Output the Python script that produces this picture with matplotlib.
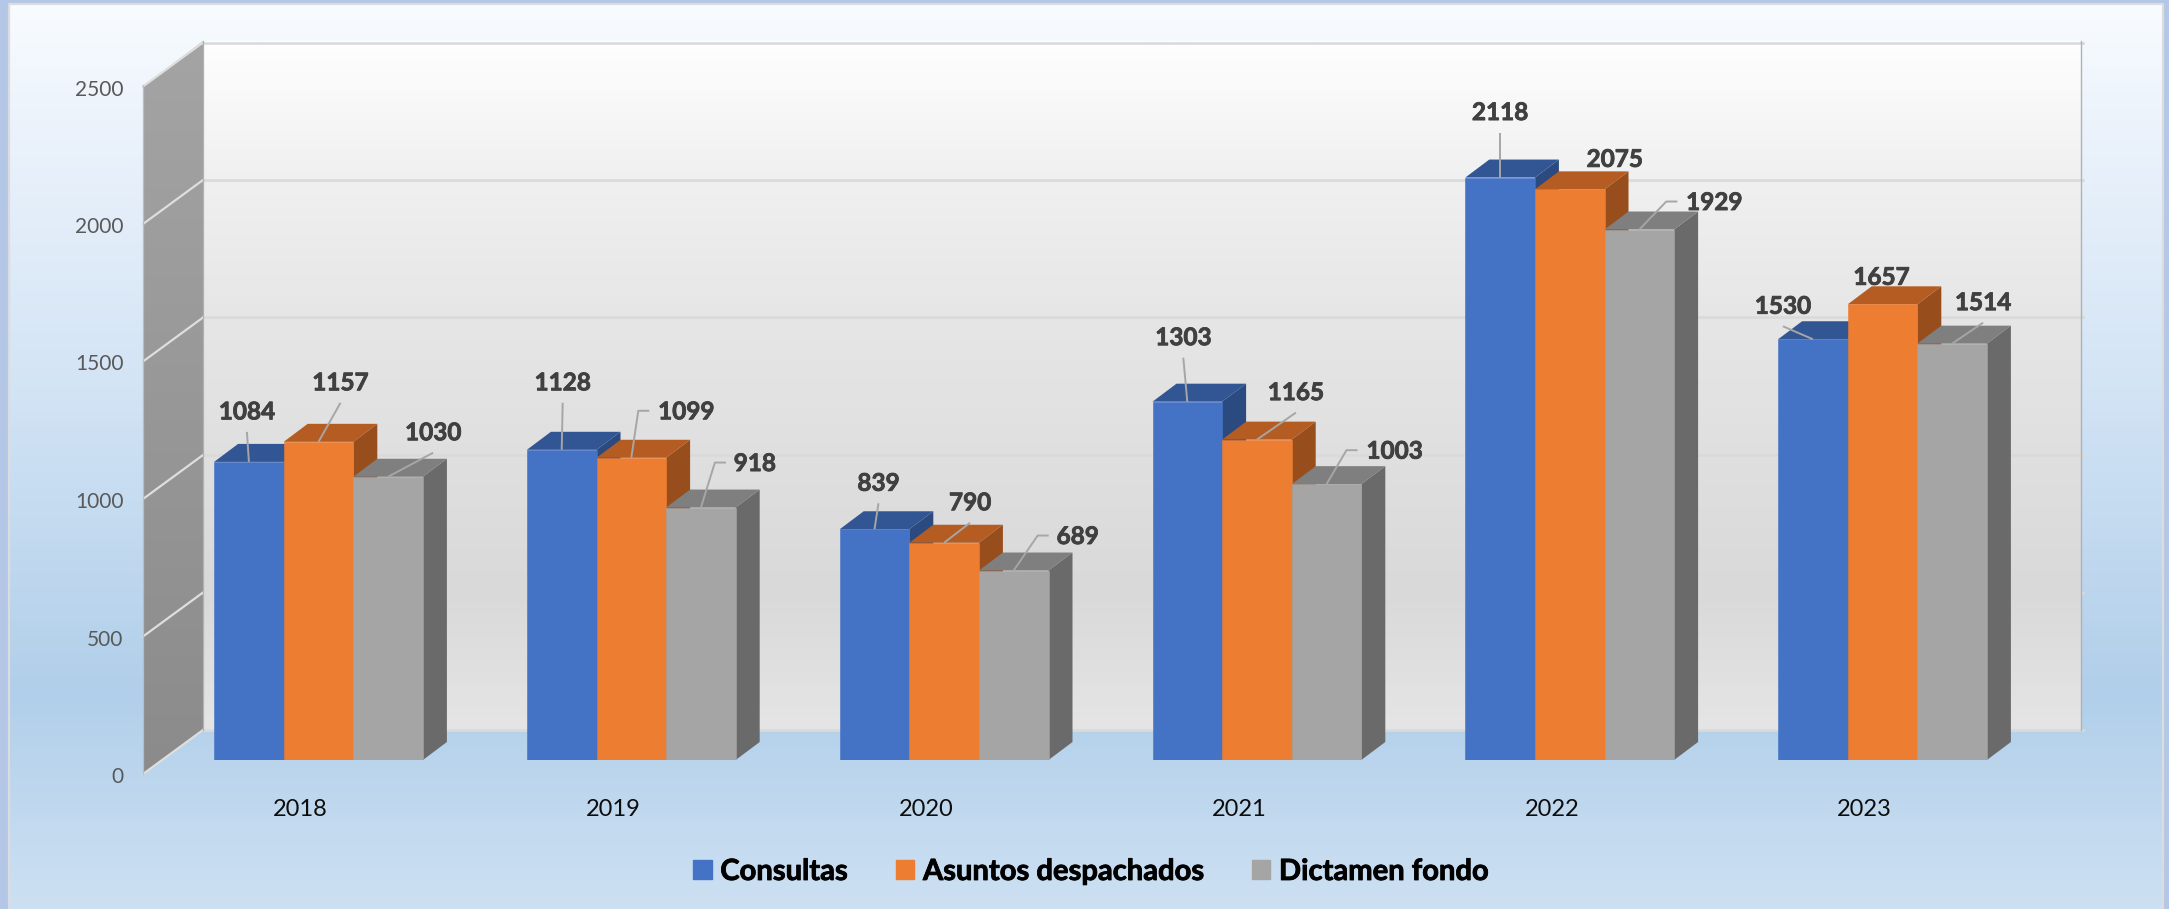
import numpy as np
import matplotlib
matplotlib.use('Agg')
import matplotlib.pyplot as plt
import matplotlib.patheffects as pe
from matplotlib.colors import LinearSegmentedColormap
from matplotlib.patches import Patch, Polygon
from matplotlib.transforms import ScaledTranslation

years = ['2018', '2019', '2020', '2021', '2022', '2023']
consultas = [1084, 1128, 839, 1303, 2118, 1530]
asuntos = [1157, 1099, 790, 1165, 2075, 1657]
dictamen = [1030, 918, 689, 1003, 1929, 1514]
series_names = ['Consultas', 'Asuntos despachados', 'Dictamen fondo']
yticks = [0, 500, 1000, 1500, 2000, 2500]

# label offset from the bar top centre, in pixels (right, up)
consultas_off = [(-2, 50), (1, 67), (4, 46), (-4, 64), (0, 65), (-30, 33)]
asuntos_off = [(22, 59), (55, 46), (26, 40), (39, 47), (45, 30), (-1, 27)]
dictamen_off = [(45, 44), (54, 44), (64, 34), (68, 33), (75, 27), (31, 41)]
# leader kind: s straight, e elbow, n none
consultas_lead = 'ssssss'
asuntos_lead = 'sessnn'
dictamen_lead = 'seeees'

front = ['#4472C4', '#ED7D31', '#A5A5A5']
top = ['#325594', '#B45C22', '#7F7F7F']
side = ['#2A4A80', '#974E1C', '#6A6A6A']

W, H = 2169, 909
plt.rcParams['font.family'] = ['Lato', 'DejaVu Sans']
fig = plt.figure(figsize=(W / 100, H / 100), dpi=100, facecolor='#B4C7E7')

# background in pixel coordinates
bg = fig.add_axes([0, 0, 1, 1], zorder=0)
bg.set_xlim(0, W)
bg.set_ylim(H, 0)
bg.axis('off')

panel = LinearSegmentedColormap.from_list('panel', [
    (0.0, '#F8FCFF'), (0.11, '#EEF4FC'), (0.42, '#D3E4F5'),
    (0.76, '#B1CFEA'), (1.0, '#CDE0F2')])
bg.imshow(np.linspace(0, 1, 256)[:, None], cmap=panel, aspect='auto', extent=(9, 2163, H, 4))
bg.plot([9, 9, 2163, 2163], [H, 4, 4, H], color='#DADCE0', lw=1.6)

wall_l, wall_r, wall_top, wall_bot = 203, 2081, 41, 730
front_x, depth_y = 143, 44
px_per_unit = 687.5 / 2500

wall = LinearSegmentedColormap.from_list('wall', [
    (0.0, '#FEFEFE'), (0.2, '#F0F0F0'), (0.4, '#E6E6E6'), (0.8, '#D9D9D9'), (1.0, '#E5E5E5')])
bg.imshow(np.linspace(0, 1, 256)[:, None], cmap=wall, aspect='auto',
          extent=(wall_l, wall_r, wall_bot, wall_top))

side_cm = LinearSegmentedColormap.from_list('side', ['#A4A4A4', '#8B8B8B'])
side_im = bg.imshow(np.linspace(0, 1, 256)[:, None], cmap=side_cm, aspect='auto',
                    extent=(front_x, wall_l, wall_bot + depth_y, wall_top))
side_poly = Polygon([(front_x, wall_top + depth_y + 2), (wall_l, wall_top), (wall_l, wall_bot),
                     (front_x, wall_bot + depth_y)], closed=True, transform=bg.transData,
                    fc='none', ec='none')
bg.add_patch(side_poly)
side_im.set_clip_path(side_poly)
bg.set_xlim(0, W)
bg.set_ylim(H, 0)

for v in yticks:
    y = wall_bot - v * px_per_unit
    bg.plot([wall_l, wall_r + 2], [y, y], color='#DADADA', lw=1.9)
    bg.plot([front_x, wall_l], [y + depth_y, y], color='#DEDEDE', lw=1.6)
bg.plot([wall_l, wall_l], [wall_top, wall_bot], color='#B0B0B0', lw=0.9)
bg.plot([front_x, front_x], [wall_top + depth_y, wall_bot + depth_y], color='#B8BEC4', lw=0.9)
bg.plot([wall_r, wall_r], [wall_top, wall_bot], color='#AEB2B6', lw=1.0)

# main axes, front plane of the bars
ax_bottom = 760
ax = fig.add_axes([front_x / W, 1 - ax_bottom / H, (wall_r - front_x) / W, 687.5 / H], zorder=1)
ax.patch.set_visible(False)
step = 312.8
ax.set_xlim((front_x - 300.5) / step, (wall_r - 300.5) / step)
ax.set_ylim(0, 2500)
for s in ax.spines.values():
    s.set_visible(False)

dx = 24 / step
dy = 18 / px_per_unit
bar_w = 69.6 / step
group_shift = 18 / step

all_vals = [consultas, asuntos, dictamen]
all_off = [consultas_off, asuntos_off, dictamen_off]
all_lead = [consultas_lead, asuntos_lead, dictamen_lead]
xs = np.arange(len(years))

z = 2
for i in xs:
    for j in range(3):
        v = all_vals[j][i]
        c = i + group_shift + (j - 1) * bar_w
        l, r = c - bar_w / 2, c + bar_w / 2
        ax.fill([r, r + dx, r + dx, r], [0, dy, v + dy, v], color=side[j], lw=0, zorder=z)
        ax.fill([l, r, r + dx, l + dx], [v, v, v + dy, v + dy], color=top[j], lw=0, zorder=z)
        ax.bar(c, v, width=bar_w, color=front[j], edgecolor=front[j], lw=0.4, zorder=z)
        z += 1

# value labels and their leader lines
stroke = [pe.withStroke(linewidth=0.6, foreground='#404040')]
for i in xs:
    for j in range(3):
        v = all_vals[j][i]
        c = i + group_shift + (j - 1) * bar_w
        ox, oy = all_off[j][i]
        kind = all_lead[j][i]
        half = 37 if v >= 1000 else 29
        if kind == 's':
            lx, ly = [ox * 1.0, 0], [oy - 20.0, 0]
        elif kind == 'e':
            lx, ly = [ox - half, ox - half - 11, 0], [oy + 1, oy + 1, 0]
        if kind != 'n':
            ax.plot(c + np.array(lx) / step, v + np.array(ly) / px_per_unit,
                    color='#A6A6A6', lw=1.4, zorder=z, solid_capstyle='butt')
        ax.annotate(str(v), xy=(c, v), xytext=(ox, oy), textcoords='offset pixels',
                    ha='center', va='center', fontsize=17.5, fontweight='bold',
                    color='#404040', zorder=z + 1, path_effects=stroke)

ax.set_xticks(xs, years)
ax.set_yticks(yticks)
ax.tick_params(axis='x', length=0, pad=28, labelsize=17, labelcolor='#0D0D0D')
ax.tick_params(axis='y', length=0, pad=14, labelsize=15, labelcolor='#595959')
down = ScaledTranslation(0, -15 / 100, fig.dpi_scale_trans)
for lab in ax.get_yticklabels():
    lab.set_transform(lab.get_transform() + down)

handles = [Patch(color=front[k], label=series_names[k]) for k in range(3)]
fs = 21
leg = ax.legend(handles=handles, ncol=3, frameon=False, loc='center',
                bbox_to_anchor=(1091 / W, 1 - 872 / H), bbox_transform=fig.transFigure,
                prop={'weight': 'bold', 'size': fs},
                labelcolor='#000000', handlelength=0.62, handleheight=0.62,
                handletextpad=0.3, columnspacing=1.66, borderpad=0, borderaxespad=0)
for t in leg.get_texts():
    t.set_path_effects([pe.withStroke(linewidth=0.6, foreground='#000000')])

fig.savefig('out.png', dpi=100, facecolor=fig.get_facecolor())
